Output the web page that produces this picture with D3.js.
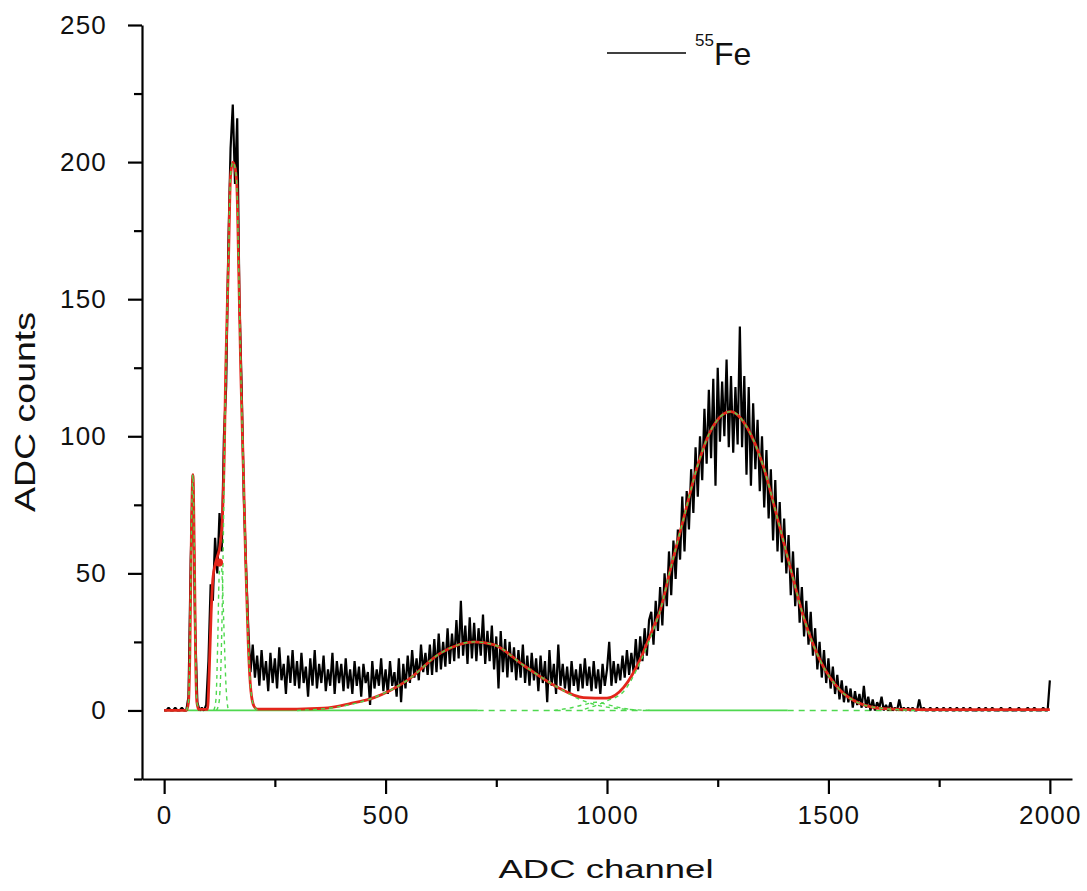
<!DOCTYPE html>
<html>
<head>
<meta charset="utf-8">
<script src="https://cdn.jsdelivr.net/npm/d3@7"></script>
<style>
  body { margin: 0; background: #fff; }
  svg text { font-family: "Liberation Sans", Arial, sans-serif; fill: #111; }
</style>
</head>
<body>
<svg id="chart"></svg>
<script>
var width = 1087;
var height = 891;

// spectrum, one value every 5 channels starting at channel 0
var countsStep = 5;
var counts = [].concat(
  [0, 0, 1, 0, 0, 1, 0, 0, 1, 0, 0, 5, 55, 86, 30, 3, 0, 1, 0, 2],
  [18, 46, 40, 63, 50, 72, 58, 100, 118, 170, 205, 221, 192, 216, 150, 118, 78, 52, 30, 14],
  [24, 12, 20, 9, 22, 11, 18, 7, 21, 10, 19, 8, 23, 11, 17, 6, 20, 10, 22, 9],
  [18, 8, 21, 10, 16, 5, 19, 9, 22, 8, 17, 10, 20, 7, 15, 9, 21, 6, 18, 10],
  [17, 7, 19, 8, 15, 6, 18, 9, 16, 5, 17, 10, 14, 2, 18, 8, 15, 9, 19, 7],
  [15, 6, 18, 9, 14, 5, 19, 3, 17, 8, 20, 10, 22, 12, 19, 11, 24, 14, 21, 13],
  [24, 13, 26, 14, 28, 15, 25, 16, 30, 17, 28, 18, 33, 19, 40, 20, 31, 17, 34, 19],
  [32, 18, 30, 20, 35, 17, 29, 18, 31, 15, 27, 8, 29, 14, 26, 12, 25, 14, 23, 11],
  [22, 12, 24, 10, 20, 9, 21, 11, 19, 7, 20, 10, 18, 3, 22, 9, 17, 6, 24, 9],
  [17, 8, 16, 6, 18, 9, 15, 7, 17, 8, 19, 9, 16, 7, 18, 8, 15, 6, 17, 9],
  [15, 25, 9, 18, 10, 17, 11, 20, 12, 22, 13, 21, 14, 26, 15, 27, 18, 30, 20, 33],
  [36, 24, 40, 29, 45, 31, 50, 38, 58, 42, 62, 48, 66, 55, 78, 58, 80, 66, 88, 72],
  [96, 78, 100, 84, 110, 90, 117, 92, 121, 82, 125, 98, 120, 100, 128, 96, 122, 94, 118, 97],
  [140, 96, 122, 86, 118, 82, 112, 88, 106, 80, 100, 74, 95, 70, 88, 62, 84, 58, 76, 54],
  [70, 50, 64, 42, 58, 38, 52, 32, 45, 27, 40, 24, 36, 20, 30, 15, 25, 12, 22, 10],
  [19, 8, 16, 6, 13, 4, 11, 3, 9, 3, 8, 1, 7, 2, 6, 1, 9, 1, 5, 0],
  [4, 0, 3, 1, 5, 0, 2, 0, 3, 0, 1, 0, 4, 0, 1, 0, 1, 0, 1, 0],
  [0, 4, 0, 1, 0, 0, 1, 0, 0, 1, 0, 0, 1, 0, 0, 1, 0, 0, 1, 0],
  [0, 1, 0, 0, 1, 0, 0, 0, 1, 0, 0, 1, 0, 0, 1, 0, 0, 0, 1, 0],
  [0, 0, 1, 0, 0, 0, 1, 0, 0, 0, 1, 0, 0, 1, 0, 0, 0, 1, 0, 0],
  [11]
);

// cumulative fit (red)
var fitChannel = [0, 50, 55, 58, 62, 65, 68, 71, 74, 78, 98, 102, 106, 110, 115, 120, 126, 132, 136, 139,
  145, 150, 155, 160, 164, 169, 173, 179, 184, 190, 196, 203, 210, 300, 361, 420, 474, 549, 625, 700,
  744, 812, 888, 947, 1000, 1038, 1076, 1099, 1121, 1144, 1173, 1204, 1234, 1279, 1317, 1353, 1385,
  1414, 1444, 1482, 1527, 1572, 1624, 1700, 2000];
var fitValue = [0, 0, 3, 20, 70, 86, 60, 20, 3, 0.4, 0.4, 15, 35, 48, 53, 56, 60, 72, 95, 124,
  162, 195, 200, 198, 192, 156, 124, 87, 55, 24, 7, 1.5, 0.5, 0.5, 0.8, 2.5, 4.7, 11, 21, 25,
  24, 16.4, 8.5, 4.7, 4.5, 8.5, 19, 28, 37, 52, 70, 89, 102, 109, 103, 89, 70,
  52, 34, 18, 7.3, 2.5, 0.7, 0.3, 0.3];

// fitted components (green, dashed)
var peak1Channel = [50, 55, 58, 62, 65, 68, 71, 74, 80];
var peak1Value = [0, 3, 20, 70, 86, 60, 20, 3, 0];
var peak2Channel = [112, 117, 121, 124, 128, 132, 136, 140, 145];
var peak2Value = [0, 4, 25, 48, 55, 45, 25, 8, 0];
var peak3Channel = [118, 124, 128, 132, 136, 139, 145, 150, 155, 160, 164, 169, 173, 179, 184, 190, 196, 203, 212];
var peak3Value = [0, 3, 15, 45, 90, 122, 162, 195, 200, 198, 192, 156, 124, 87, 55, 24, 7, 1.5, 0];
var peak4Channel = [300, 400, 474, 549, 625, 700, 744, 812, 888, 947, 1000, 1100];
var peak4Value = [0, 1.5, 4.7, 11, 21, 25, 24, 16.4, 8.5, 3.5, 1.2, 0];
var peak5Channel = [880, 920, 950, 975, 1000, 1030, 1070];
var peak5Value = [0, 1, 2.2, 3, 2.2, 1, 0];
var peak6Channel = [950, 1000, 1038, 1076, 1099, 1121, 1144, 1173, 1204, 1234, 1279, 1317, 1353, 1385,
  1414, 1444, 1482, 1527, 1572, 1624, 1700];
var peak6Value = [0.5, 3.5, 7, 18, 27, 37, 52, 70, 89, 102, 109, 103, 89, 70,
  52, 34, 18, 7.3, 2.5, 0.7, 0];

// zero line pieces of the components
var baseSolid = [[0, 708], [1092, 1408]];
var baseDashed = [[708, 1092], [1408, 2000]];

var marker = [124, 54];

var xMajor = [0, 500, 1000, 1500, 2000];
var xMinor = [250, 750, 1250, 1750];
var yMajor = [0, 50, 100, 150, 200, 250];
var yMinor = [-25, 25, 75, 125, 175, 225];

var svg = d3.select("#chart").attr("width", width).attr("height", height);

var x = d3.scaleLinear().domain([-50, 2050]).range([142, 1072]);
var y = d3.scaleLinear().domain([-25, 250]).range([779, 25]);

function pairs(cs, vs) {
    return cs.map(function(c, i) { return [c, vs[i]]; });
}

var line = d3.line()
    .x(function(d) { return x(d[0]); })
    .y(function(d) { return y(d[1]); });

var green = "#4fd84f";

// green zero line
baseSolid.forEach(function(s) {
    svg.append("path").attr("d", line([[s[0], 0], [s[1], 0]]))
        .attr("fill", "none").attr("stroke", green).attr("stroke-width", 1.8);
});
baseDashed.forEach(function(s) {
    svg.append("path").attr("d", line([[s[0], 0], [s[1], 0]]))
        .attr("fill", "none").attr("stroke", green).attr("stroke-width", 1.6)
        .attr("stroke-dasharray", "6,5");
});

// measured spectrum
var spectrum = counts.map(function(v, i) { return [i * countsStep, v]; });
svg.append("path")
    .attr("d", line(spectrum))
    .attr("fill", "none")
    .attr("stroke", "#000")
    .attr("stroke-width", 2.2)
    .attr("stroke-linejoin", "bevel");

// total fit
svg.append("path")
    .attr("d", line.curve(d3.curveMonotoneX)(pairs(fitChannel, fitValue)))
    .attr("fill", "none")
    .attr("stroke", "#e3261b")
    .attr("stroke-width", 2.8);

// components drawn over the fit
[[peak1Channel, peak1Value], [peak2Channel, peak2Value], [peak3Channel, peak3Value],
 [peak4Channel, peak4Value], [peak5Channel, peak5Value], [peak6Channel, peak6Value]].forEach(function(p) {
    svg.append("path")
        .attr("d", line.curve(d3.curveMonotoneX)(pairs(p[0], p[1])))
        .attr("fill", "none")
        .attr("stroke", green)
        .attr("stroke-width", 1.4)
        .attr("stroke-dasharray", "4,4");
});

svg.append("circle")
    .attr("cx", x(marker[0])).attr("cy", y(marker[1])).attr("r", 4)
    .attr("fill", "#e3261b");

// axes
var gx = svg.append("g").attr("transform", "translate(0," + y(-25) + ")");
gx.call(d3.axisBottom(x).tickValues(xMajor).tickFormat(d3.format("d"))
    .tickSize(15).tickSizeOuter(0).tickPadding(12));
gx.append("g").call(d3.axisBottom(x).tickValues(xMinor).tickSize(8).tickFormat(""))
    .select(".domain").remove();

var gy = svg.append("g").attr("transform", "translate(" + x(-50) + ",0)");
gy.call(d3.axisLeft(y).tickValues(yMajor).tickFormat(d3.format("d"))
    .tickSize(14).tickSizeOuter(0).tickPadding(21));
gy.append("g").call(d3.axisLeft(y).tickValues(yMinor).tickSize(8).tickFormat(""))
    .select(".domain").remove();

svg.selectAll(".domain, .tick line").attr("stroke", "#000").attr("stroke-width", 2.2);
svg.selectAll(".tick text")
    .style("font-family", "'Liberation Sans', Arial, sans-serif")
    .style("font-size", "26px")
    .style("letter-spacing", "1.2px")
    .attr("fill", "#222");

// axis titles
svg.append("text")
    .attr("x", 606).attr("y", 878)
    .attr("text-anchor", "middle")
    .attr("textLength", 215).attr("lengthAdjust", "spacingAndGlyphs")
    .style("font-size", "26px")
    .text("ADC channel");

svg.append("text")
    .attr("transform", "translate(35,412) rotate(-90)")
    .attr("text-anchor", "middle")
    .attr("textLength", 200).attr("lengthAdjust", "spacingAndGlyphs")
    .style("font-size", "30px")
    .text("ADC counts");

// legend
svg.append("line")
    .attr("x1", 607).attr("x2", 686).attr("y1", 53).attr("y2", 53)
    .attr("stroke", "#000").attr("stroke-width", 1.3);
var leg = svg.append("text").attr("x", 695).attr("y", 65);
leg.append("tspan").attr("dy", -19).style("font-size", "17px").text("55");
leg.append("tspan").attr("dy", 19).style("font-size", "32px").text("Fe");
</script>
</body>
</html>
